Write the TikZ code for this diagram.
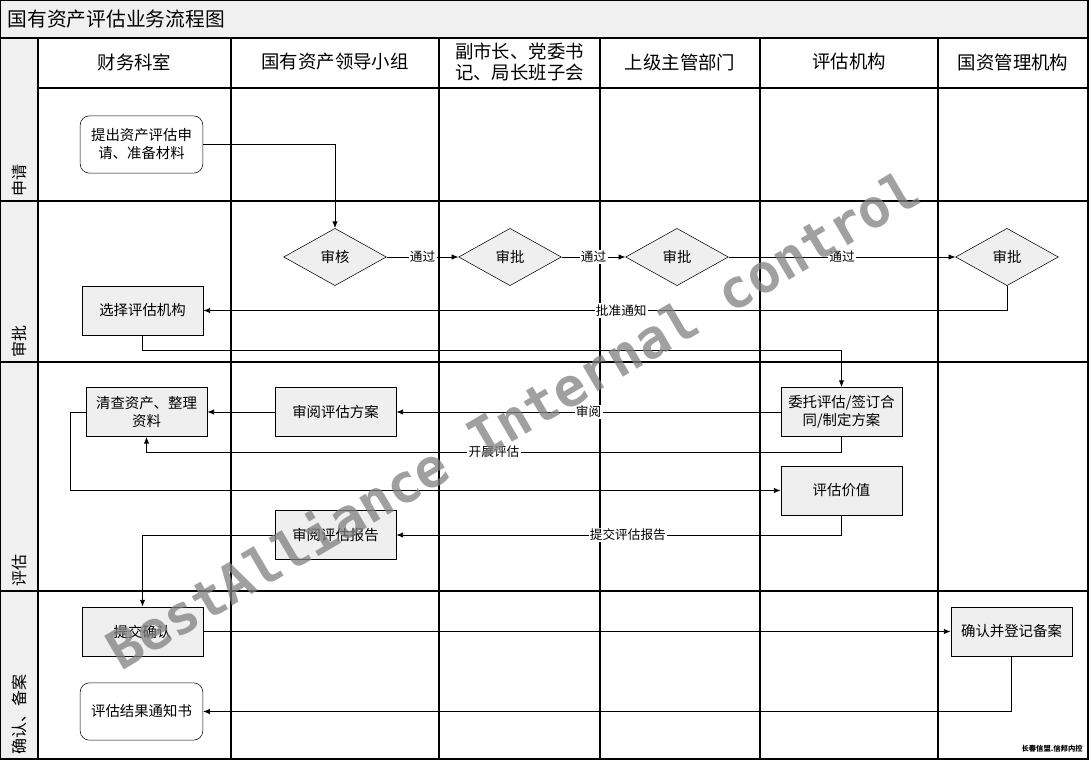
\documentclass[tikz,border=0pt]{standalone}
\usepackage{fontspec}
\setmainfont{Noto Sans CJK SC}
\newfontfamily\markfont{DejaVu Sans Mono}
\usetikzlibrary{arrows.meta,shapes.geometric}

\definecolor{lanegray}{HTML}{F0F0F0}
\definecolor{boxgray}{HTML}{EFEFEF}

\tikzset{
  task/.style={draw,fill=boxgray,minimum width=91pt,minimum height=37pt,align=center,
    inner sep=2pt,font=\fontsize{10.8}{13.5}\selectfont},
  term/.style={draw,fill=white,rounded corners=7pt,minimum width=92pt,minimum height=43pt,
    align=center,font=\fontsize{10.8}{13.5}\selectfont},
  check/.style={draw,diamond,fill=boxgray,minimum width=77pt,minimum height=43pt,
    inner sep=0pt,font=\fontsize{10.8}{13.5}\selectfont},
  flow/.style={-{Latex[length=5pt,width=4pt]},line width=0.6pt},
  tag/.style={fill=white,inner sep=1pt,font=\fontsize{9.5}{10}\selectfont},
  lane/.style={line width=0.9pt},
  head/.style={align=center,font=\fontsize{13.8}{15.5}\selectfont},
  phase/.style={rotate=90,anchor=west,inner sep=0pt,font=\fontsize{12}{12}\selectfont}
}

\begin{document}
\begin{tikzpicture}[x=0.75pt,y=-0.75pt]
  \useasboundingbox (0,0) rectangle (1089,760);

  % frame and lanes
  \fill[lanegray] (0,0) rectangle (1088,38);
  \fill[lanegray] (0,38) rectangle (38,759);
  \draw[lane] (0.5,0.5) rectangle (1088,759);
  \draw[lane] (0.5,38) -- (1088,38);
  \draw[lane] (38,88) -- (1088,88);
  \foreach \y in {201,362,591}
    \draw[lane] (0.5,\y) -- (1088,\y);
  \foreach \x in {38,231,439,600,760,938}
    \draw[lane] (\x,38) -- (\x,759);

  \node[anchor=west,font=\fontsize{14.8}{16}\selectfont] (title) at (3,19) {国有资产评估业务流程图};

  \node[head] (head-1) at (134.5,62) {财务科室};
  \node[head] (head-2) at (335,62)   {国有资产领导小组};
  \node[head] (head-3) at (519.5,62) {副市长、党委书\\记、局长班子会};
  \node[head] (head-4) at (680,62)   {上级主管部门};
  \node[head] (head-5) at (849,62)   {评估机构};
  \node[head] (head-6) at (1013,62)  {国资管理机构};

  \node[phase] (phase-1) at (19,197) {申请};
  \node[phase] (phase-2) at (19,358) {审批};
  \node[phase] (phase-3) at (19,587) {评估};
  \node[phase] (phase-4) at (19,755) {确认、备案};

  % steps
  \node[term]  (apply)         at (141.5,144.5) {提出资产评估申\\请、准备材料};
  \node[check] (audit)         at (335,257)     {审核};
  \node[check] (approve-a)     at (510,257)     {审批};
  \node[check] (approve-b)     at (677,257)     {审批};
  \node[check] (approve-c)     at (1007,257)    {审批};
  \node[task]  (choose)        at (142.5,310.5) {选择评估机构};
  \node[task]  (entrust)       at (841.5,412)   {委托评估/签订合\\同/制定方案};
  \node[task]  (review-plan)   at (335.5,412)   {审阅评估方案};
  \node[task]  (inventory)     at (146.5,412)   {清查资产、整理\\资料};
  \node[task]  (value)         at (841.5,490.5) {评估价值};
  \node[task]  (review-report) at (335.5,535)   {审阅评估报告};
  \node[task]  (submit)        at (142.5,631.5) {提交确认};
  \node[task]  (record)        at (1011.5,631.5) {确认并登记备案};
  \node[term]  (notice)        at (141.5,711.5) {评估结果通知书};

  % connectors
  \draw[flow] (apply.east) -| (audit.north);
  \draw[flow] (audit) -- node[tag] {通过} (approve-a);
  \draw[flow] (approve-a) -- node[tag] {通过} (approve-b);
  \draw[flow] (approve-b) -- node[tag] {通过} (approve-c);
  \draw[flow] (approve-c.south) |- node[tag,pos=0.74] {批准通知} (choose.east);
  \draw[flow] (choose.south) -- ++(0,15) -| (entrust.north);
  \draw[flow] (entrust) -- node[tag] {审阅} (review-plan);
  \draw[flow] (review-plan) -- (inventory);
  \draw[flow] (entrust.south) -- ++(0,15) -| node[tag,pos=0.25] {开展评估} (inventory.south);
  \draw[flow] (inventory.west) -- ++(-15,0) |- (value.west);
  \draw[flow] (value.south) |- node[tag,pos=0.74] {提交评估报告} (review-report.east);
  \draw[flow] (review-report.west) -| (submit.north);
  \draw[flow] (submit) -- (record);
  \draw[flow] (record.south) |- (notice.east);

  % watermark and footer
  \node[rotate=30.4,text=gray,opacity=0.75,font=\markfont\bfseries\fontsize{40}{40}\selectfont]
    (mark) at (512,418) {BestAlliance Internal control};
  \node[anchor=east,inner sep=0pt,font=\bfseries\fontsize{5.5}{6}\selectfont] (footer) at (1083,749) {长春信盟.信邦内控};
\end{tikzpicture}
\end{document}
